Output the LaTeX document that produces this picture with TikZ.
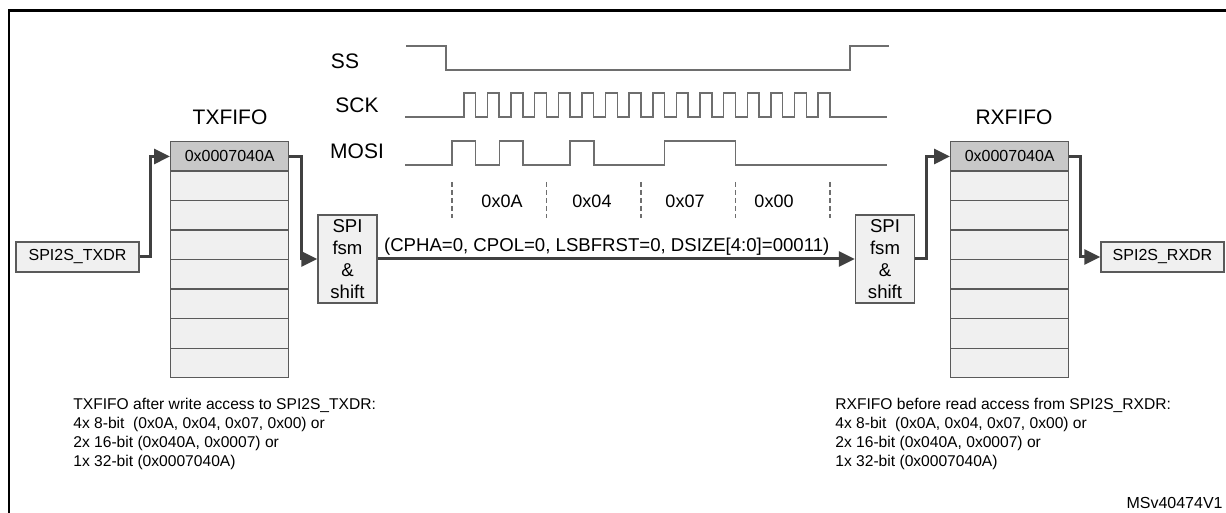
\documentclass[tikz,border=0pt]{standalone}
\usepackage{fontspec}
\setmainfont{Liberation Sans}
\usetikzlibrary{positioning,arrows.meta}
\definecolor{BoxGray}{RGB}{240,240,240}
\definecolor{TopGray}{RGB}{200,200,200}
\definecolor{EdgeGray}{RGB}{90,90,90}
\definecolor{FlowGray}{RGB}{64,64,64}
\definecolor{WaveGray}{RGB}{110,110,110}

\begin{document}
\begin{tikzpicture}[x=0.5pt,y=-0.5pt,
	cell/.style={rectangle,draw=EdgeGray,line width=0.7pt,fill=BoxGray,minimum width=59pt,
	minimum height=14.75pt,inner sep=0pt,anchor=north west,font=\fontsize{8}{9}\selectfont},
	reg/.style={rectangle,draw=EdgeGray,line width=0.7pt,fill=BoxGray,minimum width=61.5pt,
	minimum height=15pt,inner sep=0pt,font=\fontsize{8}{9}\selectfont},
	fsm/.style={rectangle,draw=EdgeGray,line width=0.7pt,fill=BoxGray,minimum width=29.5pt,
	minimum height=44pt,inner sep=0pt,align=center,font=\fontsize{9.3}{11}\selectfont},
	flow/.style={draw=FlowGray,line width=1.5pt,-{Triangle[length=8pt,width=7.5pt]}},
	wave/.style={draw=WaveGray,line width=0.75pt},
	lbl/.style={font=\fontsize{10.5}{12}\selectfont},
	note/.style={align=left,anchor=north west,inner sep=0pt,font=\fontsize{7.8}{9.5}\selectfont}]
	\useasboundingbox (0,0) rectangle (1226,513);
	\draw[line width=1.25pt] (9,513) -- (9,10.5) -- (1226,10.5);
	% signal names
	\node[lbl] (ss) at (345,61) {SS};
	\node[lbl] (sck) at (357,105) {SCK};
	\node[lbl] (mosi) at (357,151) {MOSI};
	% waveforms
	\draw[wave] (406,46) -- (446,46) -- (446,70) -- (850,70) -- (850,46) -- (889,46);
	\draw[wave] (405,117) \foreach \k in {0,...,15} { -- ({463.8+23.625*\k},117) -- ++(0,-24) -- ++(11.8,0) -- ++(0,24) } -- (887,117);
	\draw[wave] (405,165) -- (452,165) -- (452,141) -- (475.6,141) -- (475.6,165) -- (499.3,165) -- (499.3,141)
		-- (522.9,141) -- (522.9,165) -- (570.1,165) -- (570.1,141) -- (593.8,141) -- (593.8,165)
		-- (664.6,165) -- (664.6,141) -- (735.5,141) -- (735.5,165) -- (887,165);
	\foreach \k in {0,...,4}
		\draw[WaveGray,line width=0.6pt,dash pattern=on 2.5pt off 1.5pt] ({452+94.5*\k},182) -- ({452+94.5*\k},218);
	\node[font=\fontsize{9}{10}\selectfont] (byte0) at (502,201) {0x0A};
	\node[font=\fontsize{9}{10}\selectfont] (byte1) at (592,201) {0x04};
	\node[font=\fontsize{9}{10}\selectfont] (byte2) at (685,201) {0x07};
	\node[font=\fontsize{9}{10}\selectfont] (byte3) at (774,201) {0x00};
	% fifos
	\node[lbl] (txlbl) at (230,117) {TXFIFO};
	\node[lbl] (rxlbl) at (1014,117) {RXFIFO};
	\node[cell,fill=TopGray] (tx1) at (170,141) {0x0007040A};
	\node[cell,fill=TopGray] (rx1) at (950,141) {0x0007040A};
	\foreach \i in {2,...,8} {
		\node[cell] (tx\i) at (170,{141+29.5*(\i-1)}) {};
		\node[cell] (rx\i) at (950,{141+29.5*(\i-1)}) {};
	}
	% registers and shifters
	\node[reg] (txdr) at (77.5,257) {SPI2S\_TXDR};
	\node[reg] (rxdr) at (1162.5,257) {SPI2S\_RXDR};
	\node[fsm] (spitx) at (347.5,259) {SPI\\fsm\\\&\\shift};
	\node[fsm] (spirx) at (885,259) {SPI\\fsm\\\&\\shift};
	\draw[flow] (txdr.east) -- ++(11,0) |- (tx1.west);
	\draw[flow] (tx1.east) -- ++(12,0) |- (spitx.west);
	\draw[flow] (spitx.east) -- node[pos=0.48,above,inner sep=1pt,font=\fontsize{9.3}{11}\selectfont]
		{(CPHA=0, CPOL=0, LSBFRST=0, DSIZE[4:0]=00011)} (spirx.west);
	\draw[flow] (spirx.east) -- ++(11,0) |- (rx1.west);
	\draw[flow] (rx1.east) -- ++(11,0) |- (rxdr.west);
	% notes
	\node[note] (txnote) at (73,398) {TXFIFO after write access to SPI2S\_TXDR:\\
		4x 8-bit\ \ (0x0A, 0x04, 0x07, 0x00) or\\2x 16-bit (0x040A, 0x0007) or\\1x 32-bit (0x0007040A)};
	\node[note] (rxnote) at (835,398) {RXFIFO before read access from SPI2S\_RXDR:\\
		4x 8-bit\ \ (0x0A, 0x04, 0x07, 0x00) or\\2x 16-bit (0x040A, 0x0007) or\\1x 32-bit (0x0007040A)};
	\node[anchor=east,inner sep=0pt,font=\fontsize{8}{9}\selectfont] (msv) at (1223,503) {MSv40474V1};
\end{tikzpicture}
\end{document}
